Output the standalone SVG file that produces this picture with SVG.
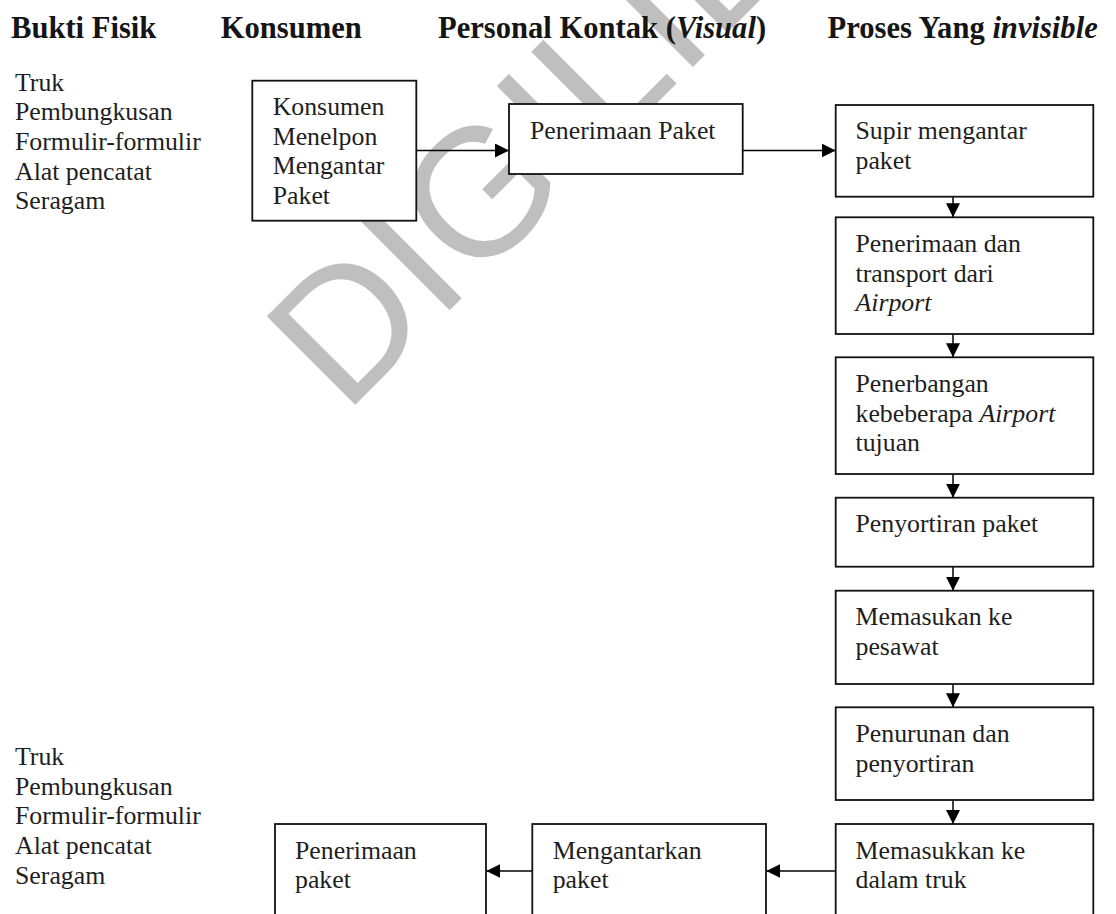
<svg xmlns="http://www.w3.org/2000/svg" width="1116" height="914" viewBox="0 0 1116 914">
<defs>
<style>
.wm{font-family:"Liberation Sans",Arial,sans-serif;font-size:182px;fill:#bfbfbf}
.h{font-family:"Liberation Serif","Times New Roman",serif;font-size:30.6px;font-weight:bold;fill:#151515}
.t{font-family:"Liberation Serif","Times New Roman",serif;font-size:25.8px;fill:#1e1e1e}
.i{font-style:italic}
.box{fill:#fff;stroke:#111;stroke-width:1.8}
.c{stroke:#000;stroke-width:1.5;fill:none;marker-end:url(#ah)}
</style>
<marker id="ah" markerUnits="userSpaceOnUse" markerWidth="14" markerHeight="14" refX="14" refY="7" orient="auto"><path d="M0,0 L14,7 L0,14 Z" fill="#000"/></marker>
</defs>
<rect width="1116" height="914" fill="#fff"/>
<text class="wm" transform="translate(344.8,415.2) rotate(-45)">DIGILIB</text>
<g id="headers">
<text class="h" x="11" y="38.3">Bukti Fisik</text>
<text class="h" x="220.7" y="38.3">Konsumen</text>
<text class="h" x="438" y="38.3">Personal Kontak (<tspan class="i">Visual</tspan>)</text>
<text class="h" x="827.5" y="38.3">Proses Yang <tspan class="i">invisible</tspan></text>
</g>
<g id="bukti-fisik-atas">
<text class="t" x="15" y="90.5">Truk</text>
<text class="t" x="15" y="120.2">Pembungkusan</text>
<text class="t" x="15" y="149.9">Formulir-formulir</text>
<text class="t" x="15" y="179.6">Alat pencatat</text>
<text class="t" x="15" y="209.3">Seragam</text>
</g>
<g id="bukti-fisik-bawah">
<text class="t" x="15" y="765">Truk</text>
<text class="t" x="15" y="794.7">Pembungkusan</text>
<text class="t" x="15" y="824.4">Formulir-formulir</text>
<text class="t" x="15" y="854.1">Alat pencatat</text>
<text class="t" x="15" y="883.8">Seragam</text>
</g>
<g id="connectors">
<line class="c" x1="416.3" y1="150.5" x2="509" y2="150.5"/>
<line class="c" x1="742.7" y1="150.5" x2="835.7" y2="150.5"/>
<line class="c" x1="953" y1="196.7" x2="953" y2="217.3"/>
<line class="c" x1="953" y1="334" x2="953" y2="357.3"/>
<line class="c" x1="953" y1="474" x2="953" y2="497.7"/>
<line class="c" x1="953" y1="566.7" x2="953" y2="590.7"/>
<line class="c" x1="953" y1="684" x2="953" y2="707.3"/>
<line class="c" x1="953" y1="800" x2="953" y2="824"/>
<line class="c" x1="835.7" y1="871" x2="766.3" y2="871"/>
<line class="c" x1="532.3" y1="871" x2="486.3" y2="871"/>
</g>
<g id="konsumen">
<rect class="box" x="252.3" y="80.7" width="164" height="140"/>
<text class="t" x="272.7" y="115">Konsumen</text>
<text class="t" x="272.7" y="144.7">Menelpon</text>
<text class="t" x="272.7" y="174.4">Mengantar</text>
<text class="t" x="272.7" y="204.1">Paket</text>
</g>
<g id="penerimaan-paket">
<rect class="box" x="509" y="104" width="233.7" height="70"/>
<text class="t" x="530" y="139">Penerimaan Paket</text>
</g>
<g id="supir">
<rect class="box" x="835.7" y="105" width="257.6" height="91.7"/>
<text class="t" x="855.5" y="139.3">Supir mengantar</text>
<text class="t" x="855.5" y="169">paket</text>
</g>
<g id="transport-airport">
<rect class="box" x="835.7" y="217.3" width="257.6" height="116.7"/>
<text class="t" x="855.5" y="251.8">Penerimaan dan</text>
<text class="t" x="855.5" y="281.5">transport dari</text>
<text class="t i" x="855.5" y="311.2">Airport</text>
</g>
<g id="penerbangan">
<rect class="box" x="835.7" y="357.3" width="257.6" height="116.7"/>
<text class="t" x="855.5" y="391.8">Penerbangan</text>
<text class="t" x="855.5" y="421.5">kebeberapa <tspan class="i">Airport</tspan></text>
<text class="t" x="855.5" y="451.2">tujuan</text>
</g>
<g id="penyortiran">
<rect class="box" x="835.7" y="497.7" width="257.6" height="69"/>
<text class="t" x="855.5" y="532.2">Penyortiran paket</text>
</g>
<g id="memasukan-pesawat">
<rect class="box" x="835.7" y="590.7" width="257.6" height="93.3"/>
<text class="t" x="855.5" y="625.2">Memasukan ke</text>
<text class="t" x="855.5" y="654.9">pesawat</text>
</g>
<g id="penurunan">
<rect class="box" x="835.7" y="707.3" width="257.6" height="92.7"/>
<text class="t" x="855.5" y="741.8">Penurunan dan</text>
<text class="t" x="855.5" y="771.5">penyortiran</text>
</g>
<g id="memasukkan-truk">
<rect class="box" x="835.7" y="824" width="257.6" height="130"/>
<text class="t" x="855.5" y="858.5">Memasukkan ke</text>
<text class="t" x="855.5" y="888.2">dalam truk</text>
</g>
<g id="mengantarkan">
<rect class="box" x="532.3" y="824" width="233.7" height="130"/>
<text class="t" x="552.7" y="858.5">Mengantarkan</text>
<text class="t" x="552.7" y="888.2">paket</text>
</g>
<g id="penerimaan-paket-akhir">
<rect class="box" x="275" y="824" width="211" height="130"/>
<text class="t" x="295" y="858.5">Penerimaan</text>
<text class="t" x="295" y="888.2">paket</text>
</g>
</svg>
